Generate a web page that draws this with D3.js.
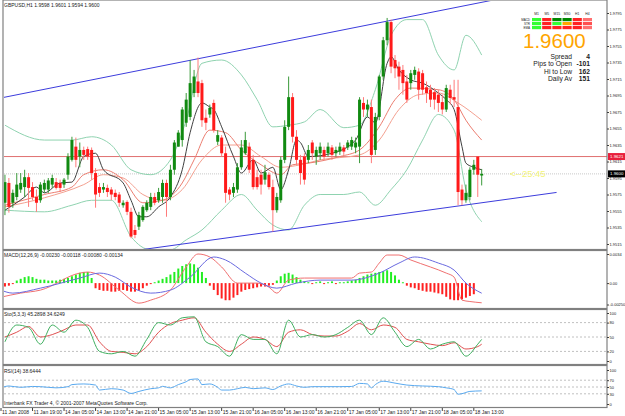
<!DOCTYPE html>
<html>
<head>
<meta charset="utf-8">
<script src="https://cdn.jsdelivr.net/npm/d3@7"></script>
<style>
    body {margin: 0; background: #fff;}
    svg {display: block; font-family: "Liberation Sans", Arial, sans-serif;}
</style>
</head>
<body>
<div id="chart"></div>
<script>
// region Data
const opens = [1.9565,1.9589,1.9565,1.9572,1.9581,1.9584,1.9596,1.9584,1.9572,1.9568,1.9581,1.9581,1.9587,1.9590,1.9589,1.9587,1.9599,1.9617,1.9633,1.9621,
    1.9629,1.9630,1.9629,1.9601,1.9584,1.9581,1.9583,1.9581,1.9577,1.9575,1.9562,1.9566,1.9554,1.9532,1.9536,1.9544,1.9556,1.9560,1.9572,1.9568,
    1.9572,1.9589,1.9572,1.9605,1.9633,1.9641,1.9662,1.9669,1.9698,1.9712,1.9710,1.9668,1.9672,1.9686,1.9639,1.9644,1.9625,1.9581,1.9577,1.9581,
    1.9608,1.9625,1.9633,1.9617,1.9596,1.9599,1.9593,1.9599,1.9584,1.9556,1.9568,1.9617,1.9657,1.9693,1.9645,1.9617,1.9621,1.9617,1.9638,1.9621,
    1.9625,1.9629,1.9625,1.9632,1.9625,1.9627,1.9632,1.9632,1.9633,1.9632,1.9633,1.9686,1.9678,1.9681,1.9629,1.9669,1.9718,1.9762,1.9784,1.9738,
    1.9730,1.9726,1.9712,1.9710,1.9720,1.9724,1.9722,1.9705,1.9702,1.9699,1.9696,1.9687,1.9678,1.9702,1.9693,1.9681,1.9581,1.9568,1.9572,1.9605,
    1.9621,1.9598];
const highs = [1.9599,1.9595,1.9581,1.9601,1.9601,1.9605,1.9601,1.9590,1.9581,1.9590,1.9593,1.9595,1.9599,1.9595,1.9593,1.9595,1.9625,1.9645,1.9644,1.9638,
    1.9633,1.9633,1.9632,1.9607,1.9589,1.9589,1.9587,1.9584,1.9581,1.9578,1.9568,1.9568,1.9559,1.9538,1.9554,1.9562,1.9568,1.9577,1.9577,1.9583,
    1.9593,1.9593,1.9611,1.9641,1.9653,1.9681,1.9698,1.9738,1.9726,1.9741,1.9714,1.9678,1.9684,1.9690,1.9653,1.9647,1.9633,1.9584,1.9589,1.9613,
    1.9641,1.9651,1.9638,1.9623,1.9605,1.9605,1.9611,1.9602,1.9593,1.9577,1.9621,1.9665,1.9718,1.9698,1.9653,1.9623,1.9625,1.9635,1.9641,1.9633,
    1.9638,1.9633,1.9638,1.9635,1.9633,1.9638,1.9635,1.9641,1.9645,1.9644,1.9693,1.9693,1.9690,1.9690,1.9674,1.9720,1.9766,1.9789,1.9787,1.9744,
    1.9736,1.9732,1.9720,1.9726,1.9730,1.9728,1.9726,1.9712,1.9708,1.9704,1.9702,1.9696,1.9708,1.9708,1.9714,1.9714,1.9587,1.9587,1.9608,1.9617,
    1.9621,1.9606];
const lows = [1.9550,1.9553,1.9559,1.9568,1.9577,1.9572,1.9560,1.9568,1.9554,1.9565,1.9577,1.9577,1.9583,1.9581,1.9578,1.9583,1.9593,1.9615,1.9608,1.9608,
    1.9617,1.9617,1.9593,1.9559,1.9572,1.9577,1.9572,1.9568,1.9568,1.9560,1.9559,1.9550,1.9522,1.9522,1.9532,1.9542,1.9554,1.9556,1.9562,1.9565,
    1.9565,1.9548,1.9568,1.9599,1.9633,1.9633,1.9657,1.9665,1.9693,1.9693,1.9657,1.9653,1.9668,1.9650,1.9635,1.9621,1.9565,1.9568,1.9572,1.9577,
    1.9605,1.9623,1.9601,1.9581,1.9581,1.9575,1.9587,1.9581,1.9530,1.9553,1.9565,1.9613,1.9653,1.9638,1.9611,1.9587,1.9587,1.9613,1.9617,1.9611,
    1.9617,1.9617,1.9621,1.9617,1.9621,1.9623,1.9623,1.9629,1.9629,1.9625,1.9613,1.9669,1.9669,1.9613,1.9623,1.9665,1.9714,1.9756,1.9722,1.9716,
    1.9702,1.9696,1.9686,1.9702,1.9714,1.9690,1.9696,1.9686,1.9681,1.9678,1.9675,1.9672,1.9675,1.9684,1.9681,1.9562,1.9562,1.9565,1.9568,1.9599,
    1.9572,1.9586];
const closes = [1.9590,1.9560,1.9577,1.9587,1.9589,1.9596,1.9583,1.9572,1.9565,1.9587,1.9589,1.9592,1.9595,1.9583,1.9583,1.9593,1.9621,1.9641,1.9617,1.9629,
    1.9623,1.9621,1.9601,1.9575,1.9577,1.9584,1.9578,1.9575,1.9572,1.9565,1.9565,1.9554,1.9524,1.9526,1.9550,1.9560,1.9565,1.9572,1.9565,1.9578,
    1.9589,1.9572,1.9605,1.9638,1.9650,1.9678,1.9690,1.9710,1.9718,1.9698,1.9665,1.9662,1.9680,1.9653,1.9647,1.9625,1.9577,1.9575,1.9584,1.9608,
    1.9632,1.9641,1.9605,1.9584,1.9584,1.9587,1.9602,1.9584,1.9556,1.9572,1.9617,1.9657,1.9693,1.9645,1.9617,1.9601,1.9593,1.9629,1.9625,1.9629,
    1.9633,1.9621,1.9633,1.9623,1.9629,1.9633,1.9627,1.9638,1.9641,1.9638,1.9690,1.9678,1.9684,1.9623,1.9669,1.9718,1.9762,1.9784,1.9730,1.9728,
    1.9718,1.9710,1.9690,1.9722,1.9726,1.9702,1.9702,1.9698,1.9690,1.9690,1.9686,1.9678,1.9704,1.9692,1.9690,1.9578,1.9568,1.9577,1.9605,1.9611,
    1.9599,1.9600];

// overlays: [bar, price]
const maFast = [[0,1.9556],[5,1.9572],[8,1.9584],[10,1.9577],[14,1.9589],[17,1.9590],[20,1.9621],[23,1.9625],[25,1.9605],[30,1.9589],[32,1.9568],[34,1.9548],
    [36,1.9548],[39,1.9560],[42,1.9572],[45,1.9605],[47,1.9650],[50,1.9686],[52,1.9681],[53,1.9678],[55,1.9657],[58,1.9621],[60,1.9601],[63,1.9617],[65,1.9601],
    [68,1.9608],[70,1.9581],[72,1.9605],[74,1.9641],[75,1.9638],[77,1.9621],[83,1.9625],[89,1.9641],[92,1.9669],[94,1.9662],[97,1.9734],[98,1.9742],[100,1.9726],
    [103,1.9714],[106,1.9710],[110,1.9698],[112,1.9690],[114,1.9678],[116,1.9633],[117,1.9613],[119,1.9608],[121,1.9605]];
const maMid = [[0,1.9562],[10,1.9575],[17,1.9584],[20,1.9599],[25,1.9605],[30,1.9593],[35,1.9565],[40,1.9568],[45,1.9589],[48,1.9617],[52,1.9653],[56,1.9650],
    [60,1.9629],[65,1.9611],[70,1.9599],[73,1.9611],[77,1.9613],[85,1.9621],[90,1.9629],[95,1.9657],[99,1.9690],[103,1.9704],[110,1.9702],[114,1.9690],[117,1.9665],[121,1.9641]];
const maSlow = [[0,1.9560],[10,1.9571],[20,1.9587],[25,1.9599],[30,1.9595],[35,1.9575],[40,1.9568],[45,1.9581],[50,1.9617],[55,1.9635],[60,1.9635],[65,1.9621],
    [70,1.9608],[75,1.9611],[80,1.9617],[90,1.9623],[95,1.9641],[100,1.9678],[105,1.9696],[110,1.9698],[115,1.9686],[121,1.9665]];
const bandUp = [[0,1.9659],[10,1.9641],[17,1.9641],[22,1.9645],[27,1.9635],[32,1.9605],[37,1.9599],[42,1.9617],[46,1.9665],[50,1.9734],[55,1.9738],[60,1.9720],
    [64,1.9690],[68,1.9657],[72,1.9659],[76,1.9663],[80,1.9678],[86,1.9656],[90,1.9659],[94,1.9702],[98,1.9768],[102,1.9787],[106,1.9787],[110,1.9744],[114,1.9726],
    [117,1.9768],[121,1.9744]];
const bandLow = [[0,1.9556],[10,1.9554],[17,1.9562],[22,1.9568],[27,1.9568],[32,1.9524],[37,1.9508],[42,1.9508],[46,1.9520],[50,1.9532],[55,1.9556],[60,1.9575],
    [64,1.9556],[68,1.9538],[72,1.9532],[76,1.9562],[80,1.9575],[86,1.9575],[90,1.9578],[94,1.9562],[98,1.9581],[102,1.9605],[106,1.9641],[110,1.9672],[114,1.9653],
    [117,1.9581],[121,1.9542]];
const trendUp = [[0,1.9693],[100,1.9788]];
const trendLow = [[36,1.9509],[118,1.9563]];
const redLevel = 1.9621, bidLevel = 1.9600;

const macdHist = [-4,-3,-1,3,5,7,8,7,5,4,4,3,3,3,4,5,6,8,10,12,13,13,6,-6,-8,-9,-9,-10,-10,-9,-8,-9,-10,-10,-9,-6,-3,-1,1,3,
    5,7,10,13,17,20,22,23,22,18,13,6,-3,-8,-14,-18,-20,-20,-17,-14,-10,-8,-7,-6,-5,-4,-4,-3,-2,3,8,11,12,10,7,4,2,1,-1,1,
    2,-1,1,2,-1,1,1,2,3,4,6,8,10,11,12,13,14,15,13,9,4,1,-3,-5,-6,-8,-9,-10,-10,-11,-12,-13,-16,-19,-20,-20,-19,-17,
    -15,-13];
const macdMain = [[-1,-0.00164],[4,-0.00117],[9,-0.00082],[19,0.00117],[21,0.00129],[24,0.00094],[29,-0.00082],[34,-0.00234],[37,-0.00199],[42,-0.00082],
    [46,0.00188],[49,0.00340],[52,0.00305],[55,0.00188],[59,0],[64,0],[67,-0.00047],[69,-0.00117],[72,0.00035],[76,0.00059],[88,0.00059],[90,0.00117],
    [93,0.00129],[95,0.00234],[97,0.00328],[100,0.00328],[103,0.0027],[108,0.00188],[112,0.00117],[114,0.0007],[116,-0.00199],[118,-0.00215],[121,-0.0023]];
const macdSignal = [[-1,-0.00082],[2,-0.00117],[9,-0.00059],[19,0.00059],[24,0.00117],[28,0.0007],[32,-0.00047],[37,-0.00117],[42,-0.00082],[47,0.0007],
    [53,0.00305],[56,0.0027],[61,0.00117],[65,0],[69,-0.00059],[74,0],[80,0.00035],[88,0.00035],[95,0.00117],[100,0.00234],[104,0.00305],[110,0.00234],
    [114,0.00152],[117,0],[121,-0.00118]];
const stochMain = [[0,40],[3,75],[6,70],[9,35],[12,75],[15,60],[18,85],[21,70],[24,20],[27,15],[30,20],[33,10],[36,45],[39,80],[42,75],[45,90],[48,92],
    [51,40],[54,30],[57,10],[60,55],[63,45],[66,45],[69,15],[72,85],[75,50],[78,55],[81,50],[84,55],[87,70],[90,85],[93,55],[96,90],[99,60],[102,30],
    [105,45],[108,25],[111,35],[114,40],[117,10],[120,35],[121,45]];
const stochSignal = [[0,50],[3,60],[6,72],[9,50],[12,55],[15,65],[18,75],[21,75],[24,40],[27,20],[30,18],[33,15],[36,30],[39,60],[42,78],[45,85],[48,90],
    [51,60],[54,35],[57,20],[60,35],[63,50],[66,45],[69,30],[72,60],[75,65],[78,55],[81,52],[84,52],[87,62],[90,78],[93,65],[96,75],[99,70],[102,45],
    [105,40],[108,35],[111,32],[114,38],[117,25],[120,30],[121,35]];
const rsi = [[-1,47.5],[1,53],[4,49],[7,51.6],[9,51],[13,47.5],[16,51],[17,57],[20,59],[23,55.7],[24,41],[27,45],[30,41],[32,31],[34,37],[37,45],[39,47.5],
    [40,52],[42,47.5],[44,57],[46,65.5],[47,72],[49,73.7],[50,57],[52,59],[54,49],[55,41],[57,41],[59,45],[61,49],[63,45],[66,47.5],[68,42.6],[70,53],
    [72,59],[74,53],[76,49],[78,51],[80,51],[85,51],[88,51.6],[90,60.6],[92,59],[93,47.5],[94,57],[96,67],[99,61.4],[102,55.7],[106,53],[110,51],[112,47.5],
    [114,42.6],[115,28.8],[116,30.4],[118,37],[121,38.6]];

const priceTicks = [1.9795,1.9775,1.9755,1.9735,1.9715,1.9695,1.9675,1.9655,1.9635,1.9615,1.9595,1.9575,1.9555,1.9535,1.9515];
const timeLabels = ['11 Jan 2008','11 Jan 19:00','14 Jan 05:00','14 Jan 13:00','14 Jan 21:00','15 Jan 05:00','15 Jan 13:00','15 Jan 21:00',
    '16 Jan 05:00','16 Jan 13:00','16 Jan 21:00','17 Jan 05:00','17 Jan 13:00','17 Jan 21:00','18 Jan 05:00','18 Jan 13:00'];
const tfCols = ['M1','M5','M15','M30','H1','H4'];
const tfRows = ['MACD','STR','EMA'];
const tfColors = [
    ['#33ff33','#ff2222','#008800','#008800','#ff2222','#ff7070'],
    ['#33ff33','#ff2222','#33ff33','#ffa500','#ff2222','#ff5050'],
    ['#33ff33','#ff2222','#ff2222','#ff2222','#ff2222','#ff7070']];
const infoLabels = ['Spread','Pips to Open','Hi to Low','Daily Av'];
const infoValues = ['4','-101','162','151'];
// endregion

const W = 625, H = 416, axisX = 607;
const svg = d3.select('#chart').append('svg').attr('width', W).attr('height', H);
svg.append('rect').attr('width', W).attr('height', H).attr('fill', '#fff');

const x = d3.scaleLinear().domain([-1, 121]).range([1, 481.7]);
const yMain = d3.scaleLinear().domain([1.9515, 1.9795]).range([244, 13]);
const yMacd = d3.scaleLinear().domain([-0.0025, 0.0034]).range([304.5, 254]);
const ySto = d3.scaleLinear().domain([0, 100]).range([361, 313]);
const yRsi = d3.scaleLinear().domain([0, 100]).range([404, 370]);

const defs = svg.append('defs');
function clip(id, y0, y1) {
    defs.append('clipPath').attr('id', id).append('rect')
        .attr('x', 4).attr('y', y0).attr('width', axisX - 4).attr('height', y1 - y0);
    return svg.append('g').attr('clip-path', `url(#${id})`);
}
const gMain = clip('cMain', 1, 249);
const gMacd = clip('cMacd', 251, 308);
const gSto = clip('cSto', 310, 364);
const gRsi = clip('cRsi', 366, 407);

// region Main panel
gMain.append('line').attr('x1', 4).attr('x2', axisX).attr('y1', yMain(redLevel)).attr('y2', yMain(redLevel))
    .attr('stroke', '#e07070').attr('stroke-width', 1);
gMain.append('line').attr('x1', 4).attr('x2', axisX).attr('y1', yMain(bidLevel)).attr('y2', yMain(bidLevel))
    .attr('stroke', '#c8c8c8').attr('stroke-dasharray', '1,1');

const priceLine = d3.line().x(d => x(d[0])).y(d => yMain(d[1])).curve(d3.curveMonotoneX);
[[bandUp, '#8fd3b0'], [bandLow, '#8fd3b0']].forEach(([d, c]) => {
    gMain.append('path').attr('d', priceLine(d)).attr('fill', 'none').attr('stroke', c).attr('stroke-width', 1);
});

function trend(pts) {
    const s = (pts[1][1] - pts[0][1]) / (pts[1][0] - pts[0][0]);
    const a = -5, b = 140;
    return [[a, pts[0][1] + s * (a - pts[0][0])], [b, pts[0][1] + s * (b - pts[0][0])]];
}
[trendUp, trendLow].forEach(t => {
    gMain.append('path').attr('d', d3.line().x(d => x(d[0])).y(d => yMain(d[1]))(trend(t)))
        .attr('stroke', '#3c3cdc').attr('stroke-width', 1).attr('fill', 'none');
});

[[maSlow, '#f4a090'], [maMid, '#ec7d70'], [maFast, '#404040']].forEach(([d, c]) => {
    gMain.append('path').attr('d', priceLine(d)).attr('fill', 'none').attr('stroke', c).attr('stroke-width', 1);
});

const bars = d3.range(closes.length);
gMain.selectAll('.wick').data(bars).enter().append('line')
    .attr('x1', i => x(i)).attr('x2', i => x(i))
    .attr('y1', i => yMain(highs[i])).attr('y2', i => yMain(lows[i]))
    .attr('stroke', i => closes[i] >= opens[i] ? '#3a9a3a' : '#ff7a7a').attr('stroke-width', 1);
gMain.selectAll('.body').data(bars).enter().append('rect')
    .attr('x', i => x(i) - 1.5).attr('width', 3)
    .attr('y', i => yMain(Math.max(opens[i], closes[i])))
    .attr('height', i => Math.max(1, Math.abs(yMain(opens[i]) - yMain(closes[i]))))
    .attr('fill', i => closes[i] >= opens[i] ? '#118a11' : '#ff1a1a');

svg.append('text').attr('x', 510).attr('y', yMain(bidLevel) + 3.5).text('<--25:45')
    .attr('font-size', 9.5).attr('fill', '#f4f47a');
// endregion

// region Sub panels
gMacd.selectAll('rect').data(macdHist).enter().append('rect')
    .attr('x', (d, i) => x(i) - 1).attr('width', 2)
    .attr('y', d => yMacd(Math.max(0, d / 10000)))
    .attr('height', d => Math.max(1, Math.abs(yMacd(d / 10000) - yMacd(0))))
    .attr('fill', d => d >= 0 ? '#22ee22' : '#ff2020');
const macdLine = d3.line().x(d => x(d[0])).y(d => yMacd(d[1])).curve(d3.curveMonotoneX);
gMacd.append('path').attr('d', macdLine(macdMain)).attr('fill', 'none').attr('stroke', '#f07070');
gMacd.append('path').attr('d', macdLine(macdSignal)).attr('fill', 'none').attr('stroke', '#6a6ae0');

[80, 50, 20].forEach(v => gSto.append('line').attr('x1', 4).attr('x2', axisX).attr('y1', ySto(v)).attr('y2', ySto(v))
    .attr('stroke', '#c0c0c0').attr('stroke-dasharray', '2,2'));
const stoLine = d3.line().x(d => x(d[0])).y(d => ySto(d[1])).curve(d3.curveMonotoneX);
gSto.append('path').attr('d', stoLine(stochSignal)).attr('fill', 'none').attr('stroke', '#e05050');
gSto.append('path').attr('d', stoLine(stochMain)).attr('fill', 'none').attr('stroke', '#40b060');

[70, 50, 30].forEach(v => gRsi.append('line').attr('x1', 4).attr('x2', axisX).attr('y1', yRsi(v)).attr('y2', yRsi(v))
    .attr('stroke', '#c0c0c0').attr('stroke-dasharray', '2,2'));
gRsi.append('path').attr('d', d3.line().x(d => x(d[0])).y(d => yRsi(d[1])).curve(d3.curveMonotoneX)(rsi))
    .attr('fill', 'none').attr('stroke', '#5aaaf0');
// endregion

// region Frames and axes
const frame = '#808080';
[[0, 249.5], [250.5, 308.5], [309.5, 364.5], [365.5, 407.5]].forEach(([a, b]) => {
    svg.append('rect').attr('x', 3).attr('y', a).attr('width', axisX - 3).attr('height', b - a)
        .attr('fill', 'none').attr('stroke', frame).attr('stroke-width', 1.2);
});

function rightAxis(scale, vals, fmt) {
    const g = svg.append('g').attr('transform', `translate(${axisX},0)`)
        .call(d3.axisRight(scale).tickValues(vals).tickSize(2).tickFormat(fmt));
    g.select('.domain').remove();
    g.selectAll('line').attr('stroke', '#404040');
    g.selectAll('text').attr('font-size', 4).attr('fill', '#202020').attr('x', 2.5).attr('font-family', '"Liberation Sans", Arial');
}
rightAxis(yMain, priceTicks, d3.format('.4f'));
rightAxis(yMacd, [0.0034, 0, -0.0025], d => d === 0 ? '0.00' : (d > 0 ? '0.0034' : '-0.00250'));
rightAxis(ySto, [100, 80, 50, 20, 0], d3.format('d'));
rightAxis(yRsi, [100, 70, 50, 30, 0], d3.format('d'));

function tag(v, bg) {
    const y = yMain(v);
    svg.append('rect').attr('x', axisX + 1).attr('y', y - 3.5).attr('width', 17).attr('height', 7).attr('fill', bg);
    svg.append('text').attr('x', axisX + 3).attr('y', y + 1.6).text(v.toFixed(4))
        .attr('font-size', 4.4).attr('fill', '#fff');
}
tag(redLevel, '#e8203c');
tag(bidLevel, '#000');

const tAxis = svg.append('g');
timeLabels.forEach((t, k) => {
    const px = x(8 * k - 1);
    tAxis.append('line').attr('x1', px).attr('x2', px).attr('y1', 408).attr('y2', 411).attr('stroke', '#404040');
    tAxis.append('text').attr('x', px + 1).attr('y', 414).text(t).attr('font-size', 5).attr('fill', '#202020');
});

const lab = (tx, px, py, fs, fill) => svg.append('text').attr('x', px).attr('y', py).text(tx)
    .attr('font-size', fs).attr('fill', fill || '#202020');
lab('GBPUSD,H1  1.9598 1.9601 1.9594 1.9600', 4, 6.5, 5);
lab('MACD(12,26,9) -0.00230 -0.00118 -0.00080 -0.00134', 4, 257, 5);
lab('Sto(5,3,3) 45.2898 34.6249', 4, 316, 5);
lab('RSI(14) 38.6444', 4, 372.5, 5);
lab('Interbank FX Trader 4, \u00a9 2001-2007 MetaQuotes Software Corp.', 4, 405, 5);
// endregion

// region Info box
const cx = d3.scaleBand().domain(tfCols).range([532, 592]).paddingInner(0.1);
tfCols.forEach(c => lab(c, cx(c) + cx.bandwidth() / 2, 15, 3.4).attr('text-anchor', 'middle'));
tfRows.forEach((r, ri) => {
    lab(r, 530, 20.5 + ri * 4, 3).attr('text-anchor', 'end');
    tfCols.forEach((c, ci) => {
        svg.append('rect').attr('x', cx(c)).attr('y', 18 + ri * 4).attr('width', cx.bandwidth()).attr('height', 3.2)
            .attr('fill', tfColors[ri][ci]);
    });
});
lab('1.9600', 523, 48, 20.5, '#ffa500');
infoLabels.forEach((t, k) => {
    lab(t, 572, 58.5 + k * 7.6, 6.7).attr('text-anchor', 'end');
    lab(infoValues[k], 590, 58.5 + k * 7.6, 6.7).attr('text-anchor', 'end').attr('font-weight', 'bold');
});
// endregion
</script>
</body>
</html>
